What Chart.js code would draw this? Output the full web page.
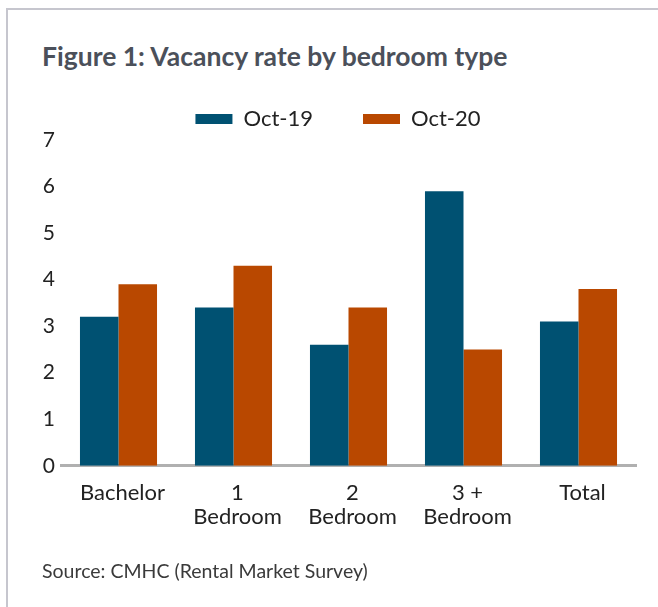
<!DOCTYPE html>
<html>
<head>
<meta charset="utf-8">
<script src="https://cdn.jsdelivr.net/npm/chart.js@4.4.0/dist/chart.umd.min.js"></script>
<style>
  body { margin: 0; background: #fff; }
  #wrap { position: relative; width: 658px; height: 607px; overflow: hidden; }
  #frame { position: absolute; left: 6px; top: 8px; width: 700px; height: 700px;
           border-top: 2px solid #c6c6ce; border-left: 2px solid #c6c6ce; }
  #titre { position: absolute; left: 42px; top: 40px; font: bold 26.5px Lato, sans-serif; color: #4b505a; white-space: nowrap; }
  #source { position: absolute; left: 42px; top: 559px; font: 19.5px Lato, sans-serif; color: #3a3a3a; white-space: nowrap; }
  canvas { position: absolute; left: 0; top: 0; }
</style>
</head>
<body>
<div id="wrap">
  <div id="frame"></div>
  <div id="titre">Figure 1: Vacancy rate by bedroom type</div>
  <canvas id="myChart" width="658" height="607"></canvas>
  <div id="source">Source: CMHC (Rental Market Survey)</div>
</div>
<script>
// données
var categories = [['Bachelor'], ['1', 'Bedroom'], ['2', 'Bedroom'], ['3 +', 'Bedroom'], ['Total']];
var oct19 = [3.2, 3.4, 2.6, 5.9, 3.1];
var oct20 = [3.9, 4.3, 3.4, 2.5, 3.8];
var ticksY = [0, 1, 2, 3, 4, 5, 6, 7];

function setGrafico(){
    const ctx = document.getElementById('myChart').getContext('2d');
    const myChart = new Chart(ctx, {
        type: 'bar',
        data: {
            labels: categories,
            datasets: [{
                label: 'Oct-19',
                data: oct19,
                backgroundColor: '#005172'
            }, {
                label: 'Oct-20',
                data: oct20,
                backgroundColor: '#b94800'
            }]
        },
        options: {
            responsive: false,
            animation: false,
            layout: { padding: { left: 40, right: 22, top: 58, bottom: 63 } },
            datasets: { bar: { categoryPercentage: 0.67, barPercentage: 1 } },
            plugins: {
                tooltip: { enabled: false },
                legend: {
                    position: 'top',
                    labels: {
                        boxWidth: 37, boxHeight: 10, padding: 50,
                        color: '#222',
                        font: { family: 'Lato', size: 22 }
                    }
                }
            },
            scales: {
                x: {
                    grid: { display: false, drawTicks: false },
                    border: { display: true, color: '#b0b0b0', width: 3 },
                    ticks: {
                        color: '#222', padding: 16, labelOffset: 4,
                        maxRotation: 0, autoSkip: false,
                        font: { family: 'Lato', size: 22, lineHeight: 1.05 }
                    }
                },
                y: {
                    min: 0, max: 7,
                    grid: { display: false, drawTicks: false },
                    border: { display: false },
                    afterFit: function(scale){ scale.width = 21; },
                    afterBuildTicks: function(scale){ scale.ticks = ticksY.map(v => ({ value: v })); },
                    ticks: {
                        color: '#222', padding: 6,
                        font: { family: 'Lato', size: 21 }
                    }
                }
            }
        }
    });
}
setGrafico();
</script>
</body>
</html>
